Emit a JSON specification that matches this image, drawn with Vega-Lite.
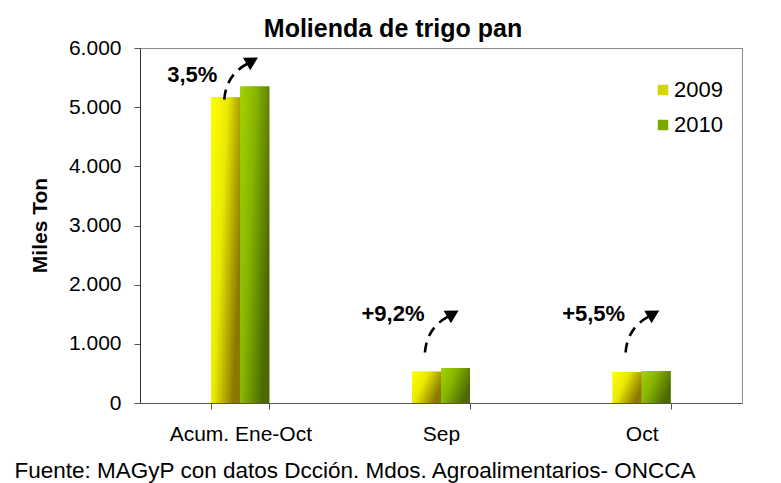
{
  "$schema": "https://vega.github.io/schema/vega-lite/v6.json",
  "width": 602,
  "height": 355,
  "autosize": {"type": "none"},
  "padding": {"left": 140, "top": 48, "right": 39, "bottom": 80},
  "background": "white",
  "config": {
    "font": "Liberation Sans",
    "view": {"stroke": "#8c8c8c", "strokeWidth": 1}
  },
  "title": {
    "text": "Molienda de trigo pan",
    "fontSize": 25,
    "fontWeight": "bold",
    "color": "black",
    "anchor": "middle",
    "dx": -48,
    "offset": -5
  },
  "datasets": {
    "bars": [
      {"cat": "Acum. Ene-Oct", "year": "2009", "value": 5168},
      {"cat": "Acum. Ene-Oct", "year": "2010", "value": 5349},
      {"cat": "Sep", "year": "2009", "value": 530},
      {"cat": "Sep", "year": "2010", "value": 592},
      {"cat": "Oct", "year": "2009", "value": 522},
      {"cat": "Oct", "year": "2010", "value": 542}
    ],
    "notes": [
      {"cat": "Acum. Ene-Oct", "label": "3,5%", "label_y": 5550, "arrow_y": 5500},
      {"cat": "Sep", "label": "+9,2%", "label_y": 1496, "arrow_y": 1225},
      {"cat": "Oct", "label": "+5,5%", "label_y": 1496, "arrow_y": 1225}
    ]
  },
  "layer": [
    {
      "data": {"name": "bars"},
      "mark": {"type": "bar", "strokeWidth": 0},
      "encoding": {
        "x": {
          "field": "cat", "type": "nominal",
          "sort": ["Acum. Ene-Oct", "Sep", "Oct"],
          "scale": {"paddingInner": 0.711, "paddingOuter": 0.3555},
          "axis": {
            "title": "Fuente: MAGyP con datos Dcción. Mdos. Agroalimentarios- ONCCA",
            "titleX": -126, "titleY": 74, "titleAlign": "left", "titleAnchor": "start",
            "titleBaseline": "alphabetic", "titleFontSize": 22.5, "titleFontWeight": "normal",
            "titleColor": "black",
            "labelAngle": 0, "labelFontSize": 21, "labelPadding": 14, "labelColor": "black",
            "tickBand": "extent", "tickSize": 6, "tickColor": "#555", "domainColor": "#555"
          }
        },
        "xOffset": {"field": "year", "type": "nominal", "scale": {"paddingInner": 0, "paddingOuter": 0}},
        "y": {
          "field": "value", "type": "quantitative",
          "scale": {"domain": [0, 6000], "nice": false},
          "axis": {
            "title": "Miles Ton", "titleFontSize": 21, "titleFontWeight": "bold", "titleColor": "black",
            "titleX": -100, "titleY": 177, "titleAlign": "center", "titleBaseline": "middle", "titleAngle": 270,
            "values": [0, 1000, 2000, 3000, 4000, 5000, 6000],
            "labelExpr": "replace(format(datum.value, ',.0f'), ',', '.')",
            "labelFontSize": 21, "labelPadding": 13, "labelColor": "black",
            "tickSize": 6, "tickColor": "#555", "domainColor": "#333", "grid": false
          }
        },
        "fill": {
          "field": "year", "type": "nominal",
          "scale": {"domain": ["2009", "2010"], "range": ["#d8d400", "#7aa800"]},
          "legend": {
            "title": null, "orient": "none", "legendX": 512, "legendY": 31,
            "symbolType": "square", "symbolSize": 110, "symbolStrokeWidth": 0,
            "labelFontSize": 22, "labelColor": "black", "rowPadding": 13, "labelOffset": 0
          }
        }
      }
    },
    {
      "data": {"name": "bars"},
      "mark": {"type": "bar", "strokeWidth": 0},
      "encoding": {
        "x": {"field": "cat", "type": "nominal", "sort": ["Acum. Ene-Oct", "Sep", "Oct"]},
        "xOffset": {"field": "year", "type": "nominal"},
        "y": {"field": "value", "type": "quantitative"},
        "fill": {
          "condition": {
            "test": "datum.year == '2009'",
            "value": {"gradient": "linear", "x1": 0, "y1": 0, "x2": 1, "y2": 0.5,
              "stops": [{"offset": 0, "color": "#ffff00"}, {"offset": 0.45, "color": "#eaea00"}, {"offset": 1, "color": "#8a7800"}]}
          },
          "value": {"gradient": "linear", "x1": 0, "y1": 0, "x2": 1, "y2": 0.5,
            "stops": [{"offset": 0, "color": "#a4d400"}, {"offset": 0.45, "color": "#86b400"}, {"offset": 1, "color": "#4a6a00"}]}
        }
      }
    },
    {
      "data": {"name": "notes"},
      "mark": {"type": "text", "fontSize": 22, "fontWeight": "bold", "color": "black", "align": "center", "baseline": "middle", "dx": -48},
      "encoding": {
        "x": {"field": "cat", "type": "nominal", "sort": ["Acum. Ene-Oct", "Sep", "Oct"]},
        "y": {"field": "label_y", "type": "quantitative"},
        "text": {"field": "label"}
      }
    },
    {
      "data": {"name": "notes"},
      "mark": {"type": "point", "shape": "M -0.73 1 Q -0.65 -0.1 0.3 -0.62", "size": 1936, "filled": false, "stroke": "black", "strokeWidth": 2.6, "strokeDash": [10, 7], "opacity": 1},
      "encoding": {
        "x": {"field": "cat", "type": "nominal", "sort": ["Acum. Ene-Oct", "Sep", "Oct"]},
        "y": {"field": "arrow_y", "type": "quantitative"}
      }
    },
    {
      "data": {"name": "notes"},
      "mark": {"type": "point", "shape": "M 0.8 -0.91 L 0.45 -0.33 L 0.12 -0.9 Z", "size": 1936, "filled": true, "color": "black", "strokeWidth": 0, "opacity": 1},
      "encoding": {
        "x": {"field": "cat", "type": "nominal", "sort": ["Acum. Ene-Oct", "Sep", "Oct"]},
        "y": {"field": "arrow_y", "type": "quantitative"}
      }
    }
  ]
}
